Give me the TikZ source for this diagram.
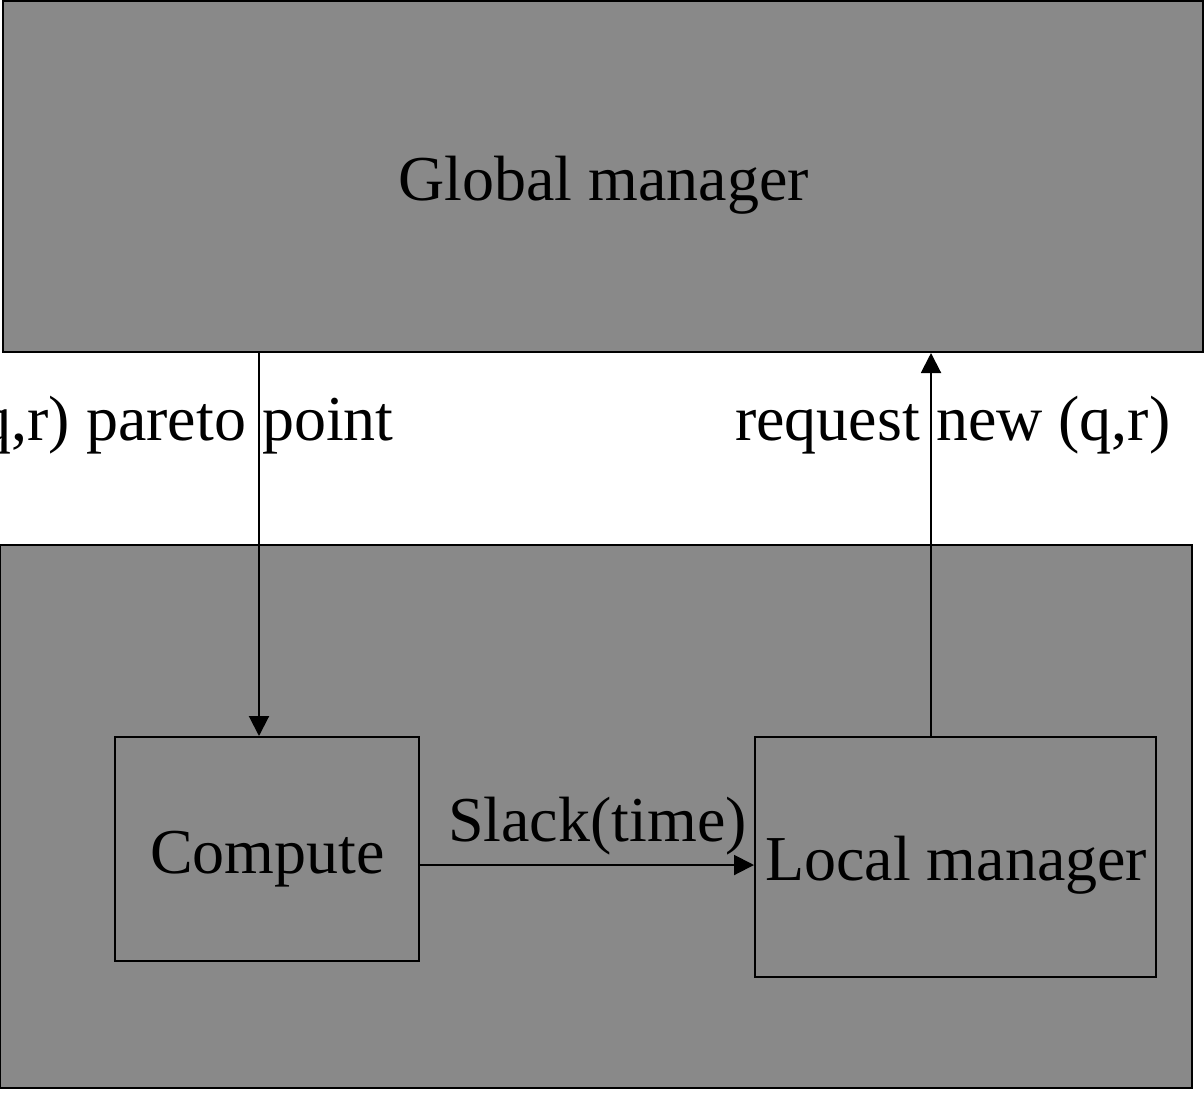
\documentclass[tikz,border=0pt]{standalone}
\usepackage{fontspec}
\setmainfont{Liberation Serif}
\usetikzlibrary{arrows.meta}
\definecolor{boxgray}{RGB}{137,137,137}
\begin{document}
\begin{tikzpicture}[x=1pt,y=-1pt,
  box/.style={draw=black,line width=2pt,fill=boxgray,inner sep=0pt,minimum width=#1},
  lbl/.style={inner sep=0pt,anchor=base west,font=\fontsize{64}{76}\selectfont},
  arr/.style={line width=2pt,-{Triangle[width=20pt,length=20pt]}}]
\useasboundingbox (0,0) rectangle (1204,1093);
\node[box=1200pt,minimum height=351pt] (gm) at (603,176.5) {};
\node[box=1192pt,minimum height=543pt] (outer) at (596,816.5) {};
\node[box=304pt,minimum height=224pt] (cp) at (267,849) {};
\node[box=401pt,minimum height=240pt] (lm) at (955.5,857) {};
\node[lbl] (gmt) at (398,200) {Global manager};
\node[lbl] (cpt) at (150,873) {Compute};
\node[lbl] (lmt) at (765,880) {Local manager};
\node[lbl] (sl) at (448,841) {Slack(time)};
\node[lbl] (pp) at (-42,440) {(q,r) pareto point};
\node[lbl] (rq) at (735,440) {request new (q,r)};
\draw[arr] (gm.south -| 259,0) -- (cp.north -| 259,0);
\draw[arr] (lm.north -| 931,0) -- (gm.south -| 931,0);
\draw[arr] (cp.east |- 0,865) -- (lm.west |- 0,865);
\end{tikzpicture}
\end{document}
